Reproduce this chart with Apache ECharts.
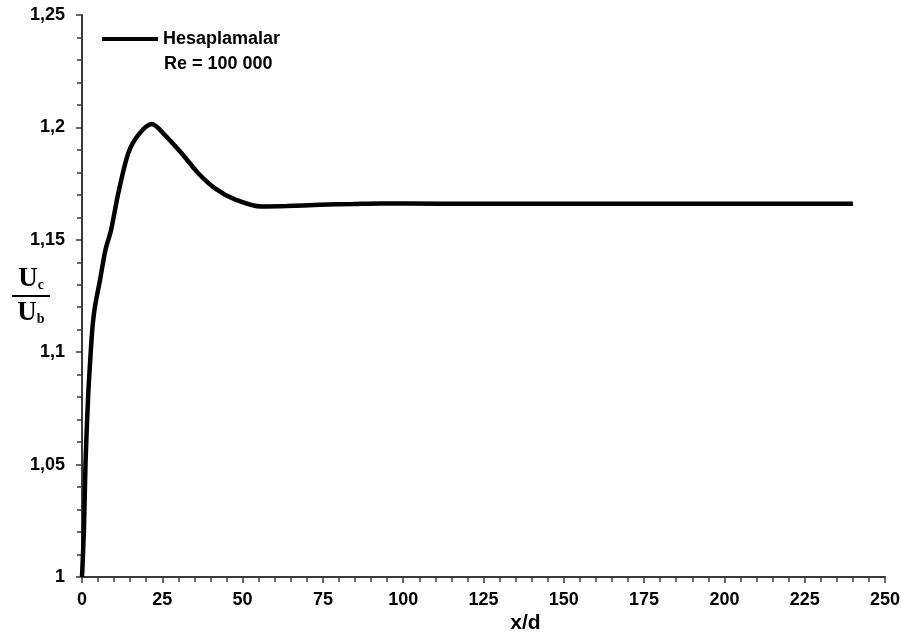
<!DOCTYPE html>
<html>
<head>
<meta charset="utf-8">
<script src="https://cdn.jsdelivr.net/npm/echarts@6/dist/echarts.min.js"></script>
<style>
  html, body { margin: 0; padding: 0; background: #fff; }
  #chart { width: 901px; height: 635px; }
</style>
</head>
<body>
<div id="chart"></div>
<script>
// Centreline velocity ratio Uc/Ub along the pipe, Re = 100 000
const xOverD = [0, 0.6, 1.1, 1.9, 2.5, 3.2, 4.0, 5.6, 7.3, 9.0, 11.3, 14.4, 17.5, 21.7,
                25.8, 31.0, 36.2, 41.4, 47.6, 55.9, 63.7, 74.1, 84.4, 92.8, 111.5, 240];
const ucOverUb = [1.0, 1.021, 1.051, 1.080, 1.095, 1.110, 1.120, 1.132, 1.1455, 1.154, 1.1707,
                  1.1885, 1.1966, 1.2015, 1.1966, 1.1885, 1.1796, 1.1729, 1.168, 1.1648,
                  1.165, 1.1656, 1.1659, 1.1662, 1.166, 1.166];
const seriesName = 'Hesaplamalar';
const reynoldsLabel = 'Re = 100 000';
const xTicks = [0, 25, 50, 75, 100, 125, 150, 175, 200, 225, 250];
const yTicks = [1, 1.05, 1.1, 1.15, 1.2, 1.25];

const points = xOverD.map((x, i) => [x, ucOverUb[i]]);
const labelFont = { color: '#000', fontFamily: 'Liberation Sans, Arial, sans-serif', fontWeight: 'bold' };
const serif = 'Liberation Serif, Times New Roman, serif';

const chart = echarts.init(document.getElementById('chart'), null, { renderer: 'canvas' });
chart.setOption({
  animation: false,
  backgroundColor: '#fff',
  grid: { left: 82, right: 16, top: 15, bottom: 58, containLabel: false, outerBoundsMode: 'none' },
  title: {
    text: reynoldsLabel,
    left: 164, top: 55, padding: 0,
    textStyle: Object.assign({ fontSize: 18 }, labelFont)
  },
  legend: {
    left: 97, top: 25,
    itemWidth: 56, itemHeight: 14,
    textStyle: Object.assign({ fontSize: 18 }, labelFont),
    data: [{ name: seriesName, icon: 'path://M0,0 L56,0 L56,4 L0,4 Z' }]
  },
  xAxis: {
    type: 'value',
    min: xTicks[0], max: xTicks[xTicks.length - 1], interval: 25,
    name: 'x/d', nameLocation: 'middle', nameGap: 36, nameMoveOverlap: false,
    nameTextStyle: Object.assign({ fontSize: 21, padding: [0, 0, 0, 84] }, labelFont),
    axisLine: { lineStyle: { color: '#3a3a3a', width: 2 } },
    axisTick: { show: true, length: 6, lineStyle: { color: '#3a3a3a', width: 1.5 } },
    minorTick: { show: true, splitNumber: 5, length: 5, lineStyle: { color: '#3a3a3a', width: 1.5 } },
    splitLine: { show: false },
    axisLabel: Object.assign({ fontSize: 18, margin: 14 }, labelFont)
  },
  yAxis: {
    type: 'value',
    min: yTicks[0], max: yTicks[yTicks.length - 1], interval: 0.05,
    name: '{u|U}{c|c}\n{hr| }\n{u|U}{b|b}',
    nameLocation: 'middle', nameRotate: 0, nameGap: 51, nameMoveOverlap: false,
    nameTextStyle: {
      align: 'center',
      rich: {
        u: { fontFamily: serif, fontWeight: 'bold', fontSize: 27, color: '#000', lineHeight: 26 },
        c: { fontFamily: serif, fontWeight: 'bold', fontSize: 14, color: '#000', verticalAlign: 'bottom', lineHeight: 18 },
        b: { fontFamily: serif, fontWeight: 'bold', fontSize: 14, color: '#000', verticalAlign: 'bottom', lineHeight: 18 },
        hr: { width: 38, height: 2, backgroundColor: '#000', fontSize: 1, lineHeight: 8 }
      }
    },
    axisLine: { show: true, lineStyle: { color: '#3a3a3a', width: 2 } },
    axisTick: { show: true, length: 6, lineStyle: { color: '#3a3a3a', width: 1.5 } },
    minorTick: { show: true, splitNumber: 5, length: 5, lineStyle: { color: '#3a3a3a', width: 1.5 } },
    splitLine: { show: false },
    axisLabel: Object.assign({
      fontSize: 18, margin: 17,
      formatter: v => String(Math.round(v * 100) / 100).replace('.', ',')
    }, labelFont)
  },
  series: [{
    name: seriesName,
    type: 'line',
    data: points,
    symbol: 'none',
    smooth: 0.3,
    lineStyle: { color: '#000', width: 4.5 },
    itemStyle: { color: '#000' }
  }]
});
</script>
</body>
</html>
